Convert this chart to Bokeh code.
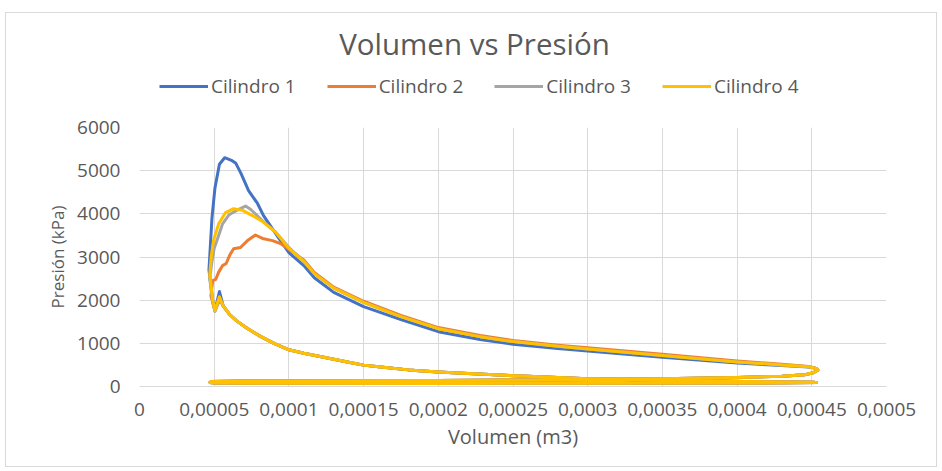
from bokeh.plotting import figure
from bokeh.layouts import column
from bokeh.models import Range1d, FixedTicker, Legend, LegendItem, Label
from bokeh.embed import file_html
from bokeh.resources import INLINE

# ---------------- data ----------------
SERIES = ["Cilindro 1", "Cilindro 2", "Cilindro 3", "Cilindro 4"]
COLORS = ["#4472C4", "#ED7D31", "#A5A5A5", "#FFC000"]

X_TICKS = [0.0, 0.00005, 0.0001, 0.00015, 0.0002, 0.00025, 0.0003, 0.00035, 0.0004, 0.00045, 0.0005]
X_TICK_LABELS = ["0", "0,00005", "0,0001", "0,00015", "0,0002", "0,00025", "0,0003", "0,00035", "0,0004", "0,00045", "0,0005"]
Y_TICKS = [0, 1000, 2000, 3000, 4000, 5000, 6000]

# compression stroke (shared), from bottom dead centre to near top dead centre
COMP_V = [0.000452, 0.00042, 0.00038, 0.00034, 0.0003, 0.00026, 0.00022, 0.0002, 0.00018, 0.00016,
          0.00015, 0.00014, 0.00012, 0.00011, 0.0001, 0.00009, 0.00008, 0.000072, 0.000065, 0.00006, 0.000056]
COMP_P = [100, 110, 125, 150, 180, 235, 300, 335, 385, 455,
          495, 560, 700, 770, 850, 1000, 1180, 1350, 1520, 1680, 1870]

# spike / dip just before combustion
SPIKE_V = [0.0000535, 0.0000505, 0.000049]
SPIKE_P_C1 = [2200, 1760, 2000]
SPIKE_P_C2 = [2050, 1760, 1950]
SPIKE_P_C3 = [2000, 1740, 1950]
SPIKE_P_C4 = [2080, 1760, 2000]

# combustion region, per cylinder
COMB_V_C1 = [0.0000465, 0.0000475, 0.0000485, 0.0000505, 0.0000535, 0.000057, 0.0000615, 0.0000645,
             0.000068, 0.000073, 0.000079, 0.000083, 0.000093, 0.0001]
COMB_P_C1 = [2700, 3300, 3900, 4600, 5150, 5300, 5240, 5170,
             4930, 4540, 4240, 3960, 3450, 3100]

COMB_V_C2 = [0.0000478, 0.000049, 0.000051, 0.000053, 0.0000556, 0.000058, 0.0000605, 0.000063,
             0.0000676, 0.0000723, 0.0000776, 0.0000823, 0.000089, 0.0000944, 0.0001024]
COMB_P_C2 = [2100, 2450, 2480, 2650, 2800, 2850, 3050, 3190,
             3220, 3380, 3510, 3430, 3380, 3310, 3120]

COMB_V_C3 = [0.000047, 0.0000485, 0.00005, 0.0000535, 0.0000556, 0.00006, 0.000065, 0.000071,
             0.0000745, 0.000082, 0.000091, 0.0001]
COMB_P_C3 = [2500, 2900, 3200, 3550, 3770, 3980, 4080, 4180,
             4100, 3850, 3580, 3220]

COMB_V_C4 = [0.000047, 0.000048, 0.0000495, 0.000053, 0.0000576, 0.000063, 0.000069, 0.0000756,
             0.000082, 0.000091, 0.0001]
COMB_P_C4 = [2600, 3000, 3380, 3770, 4030, 4120, 4080, 3960,
             3830, 3580, 3200]

# expansion stroke
EXP_V = [0.00011, 0.000117, 0.00013, 0.00015, 0.000175, 0.0002, 0.000228, 0.00025, 0.00028, 0.0003,
         0.00035, 0.0004, 0.00043, 0.000448]
EXP_P_C1 = [2800, 2520, 2180, 1850, 1550, 1270, 1090, 980, 880, 820, 680, 545, 485, 450]
EXP_P_C2 = [2930, 2640, 2300, 1975, 1645, 1365, 1180, 1065, 955, 895, 745, 590, 515, 465]
EXP_P_C3 = [2900, 2615, 2280, 1950, 1620, 1340, 1155, 1040, 930, 870, 720, 570, 500, 455]
EXP_P_C4 = [2900, 2615, 2280, 1950, 1620, 1340, 1155, 1040, 930, 870, 720, 570, 500, 455]

# blow-down and exhaust stroke (shared)
EXH_V = [0.000453, 0.000454, 0.000451, 0.000445, 0.00043, 0.0004, 0.00035, 0.0003, 0.00025, 0.0002,
         0.00015, 0.0001, 0.00007, 0.000048]
EXH_P = [420, 380, 320, 270, 240, 210, 180, 160, 150, 140, 135, 130, 125, 115]

# intake stroke (shared)
INT_V = [0.0000472, 0.00005, 0.0001, 0.0002, 0.0003, 0.0004, 0.000454]
INT_P = [95, 80, 75, 72, 75, 80, 90]

SPIKES = [SPIKE_P_C1, SPIKE_P_C2, SPIKE_P_C3, SPIKE_P_C4]
COMB_V = [COMB_V_C1, COMB_V_C2, COMB_V_C3, COMB_V_C4]
COMB_P = [COMB_P_C1, COMB_P_C2, COMB_P_C3, COMB_P_C4]
EXP_P = [EXP_P_C1, EXP_P_C2, EXP_P_C3, EXP_P_C4]

TEXT = "#595959"
GRID = "#D9D9D9"
FONT = "Open Sans"

# ---------------- header (title + legend); its range keeps the series off-screen ----------------
head = figure(width=930, height=102, output_backend="svg", toolbar_location=None, title=None,
              x_range=Range1d(10, 11), y_range=Range1d(10, 11),
              x_axis_location=None, y_axis_location=None,
              min_border_left=0, min_border_right=0, min_border_top=0, min_border_bottom=0)
head.grid.visible = False
head.outline_line_color = None
head.background_fill_color = "white"
head.border_fill_color = "white"

# ---------------- main chart ----------------
p = figure(width=930, height=351, output_backend="svg", toolbar_location=None, title=None,
           x_range=Range1d(X_TICKS[0], X_TICKS[-1]), y_range=Range1d(Y_TICKS[0], Y_TICKS[-1]),
           min_border_left=133, min_border_right=50, min_border_top=12, min_border_bottom=80)
p.outline_line_color = None
p.background_fill_color = "white"
p.border_fill_color = "white"

p.xaxis.ticker = FixedTicker(ticks=X_TICKS)
p.xaxis.major_label_overrides = {t: l for t, l in zip(X_TICKS, X_TICK_LABELS)}
p.yaxis.ticker = FixedTicker(ticks=Y_TICKS)
p.xgrid.ticker = FixedTicker(ticks=X_TICKS)
p.ygrid.ticker = FixedTicker(ticks=Y_TICKS)
p.xgrid.grid_line_color = GRID
p.ygrid.grid_line_color = GRID

for ax in (p.xaxis[0], p.yaxis[0]):
    ax.major_tick_line_color = None
    ax.minor_tick_line_color = None
    ax.major_label_text_color = TEXT
    ax.major_label_text_font = FONT
    ax.major_label_text_font_size = "19px"
    ax.axis_label_text_color = TEXT
    ax.axis_label_text_font = FONT
    ax.axis_label_text_font_style = "normal"

p.xaxis.axis_line_color = GRID
p.yaxis.axis_line_color = None
p.xaxis.axis_label = "Volumen (m3)"
p.yaxis.axis_label = "Presión (kPa)"
p.xaxis.axis_label_text_font_size = "20px"
p.yaxis.axis_label_text_font_size = "17px"
p.xaxis.major_label_standoff = 10
p.yaxis.major_label_standoff = 13
p.xaxis.axis_label_standoff = 4
p.yaxis.axis_label_standoff = 5

items = []
for i, name in enumerate(SERIES):
    xs = COMP_V + SPIKE_V + COMB_V[i] + EXP_V + EXH_V + INT_V
    ys = COMP_P + SPIKES[i] + COMB_P[i] + EXP_P[i] + EXH_P + INT_P
    p.line(xs, ys, line_color=COLORS[i], line_width=3, line_join="round")
    # same series in the header (outside its visible range) to give the legend its keys
    key = head.line(xs, ys, line_color=COLORS[i], line_width=3)
    items.append(LegendItem(label=name, renderers=[key]))

legend = Legend(items=items, orientation="horizontal", location=(20, 16),
                padding=0, margin=0, spacing=31, glyph_width=49, glyph_height=20,
                label_height=20, label_standoff=3,
                label_text_font=FONT, label_text_font_size="19px", label_text_color=TEXT,
                border_line_color=None, background_fill_alpha=0)
head.add_layout(legend, "center")

title = Label(x=335, y=72, x_units="screen", y_units="screen", text="Volumen vs Presión",
              text_align="center", text_baseline="middle", text_font=FONT,
              text_font_size="29.5px", text_color=TEXT)
head.add_layout(title)

layout = column(head, p, spacing=0)
layout.margin = (12, 0, 0, 5)
layout.styles = {"border": "1px solid #D9D9D9"}

open("out.html", "w").write(file_html(layout, INLINE))
